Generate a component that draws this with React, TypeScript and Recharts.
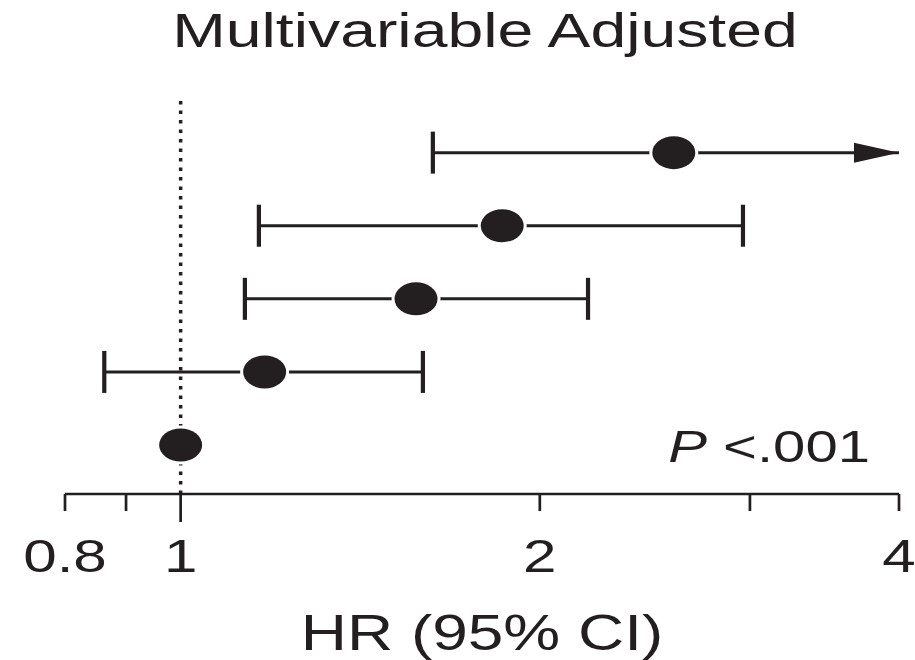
import React from 'react';
import { ScatterChart, Scatter, XAxis, YAxis, ReferenceLine } from 'recharts';

// ---- data ----
const rowIds = [1, 2, 3, 4, 5];
const hrValues = [2.59, 1.86, 1.575, 1.176, 1.0];
const ciLow: (number | null)[] = [1.627, 1.163, 1.132, 0.863, null];
const ciHigh: (number | null)[] = [4.5, 2.96, 2.195, 1.596, null];
const xTicks = [0.8, 0.9, 1, 2, 3, 4];
const xTickLabels = ['0.8', '', '1', '2', '', '4'];
const AXIS_MIN = 0.8;
const AXIS_MAX = 4;
const titleText = 'Multivariable Adjusted';
const axisTitle = 'HR (95% CI)';
const pValueText = '<.001';

const INK = '#231f20';
const FONT = '"Liberation Sans", Arial, Helvetica, sans-serif';

const pointData = rowIds.map((r, i) => ({ x: hrValues[i], y: r }));
const ciData = rowIds
  .map((r, i) => {
    const lo = ciLow[i];
    const hi = ciHigh[i];
    if (lo == null || hi == null) return null;
    return [
      { x: lo, y: r, kind: 'cap' },
      { x: Math.min(hi, AXIS_MAX), y: r, kind: hi > AXIS_MAX ? 'arrow' : 'cap' },
    ];
  })
  .filter(Boolean) as { x: number; y: number; kind: string }[][];

const CapShape = (props: any) => {
  const { cx, cy, payload } = props;
  if (cx == null || cy == null) return null;
  if (payload && payload.kind === 'arrow') {
    return (
      <polygon
        points={`${cx},${cy} ${cx - 45},${cy - 10} ${cx - 45},${cy + 10}`}
        fill={INK}
      />
    );
  }
  return <line x1={cx} x2={cx} y1={cy - 21} y2={cy + 21} stroke={INK} strokeWidth={4.2} />;
};

const DotShape = (props: any) => {
  const { cx, cy } = props;
  if (cx == null || cy == null) return null;
  return (
    <g>
      <ellipse cx={cx} cy={cy} rx={24.5} ry={19.5} fill="#ffffff" />
      <ellipse cx={cx} cy={cy} rx={21.5} ry={16.5} fill={INK} />
    </g>
  );
};

const TickShape = (props: any) => {
  const { x, y, payload } = props;
  const idx = xTicks.indexOf(payload.value);
  const label = idx >= 0 ? xTickLabels[idx] : '';
  const len = payload.value === 1 ? 28 : 17;
  return (
    <g>
      <line x1={x} x2={x} y1={y} y2={y + len} stroke={INK} strokeWidth={2.7} />
      {label !== '' && (
        <g transform={`translate(${x},${y + 78}) scale(1.28,1)`}>
          <text x={0} y={0} textAnchor="middle" fontSize={47} fontFamily={FONT} fill={INK}>
            {label}
          </text>
        </g>
      )}
    </g>
  );
};

export default function App() {
  return (
    <div style={{ position: 'absolute', left: 0, top: 0, width: 915, height: 660, background: '#fff' }}>
      <ScatterChart
        width={915}
        height={660}
        margin={{ top: 100, right: 16, bottom: 86, left: 65 }}
      >
        <XAxis
          type="number"
          dataKey="x"
          scale="log"
          domain={[AXIS_MIN, AXIS_MAX]}
          ticks={xTicks}
          allowDataOverflow
          interval={0}
          height={80}
          tickSize={0}
          tickMargin={0}
          tickLine={false}
          axisLine={{ stroke: INK, strokeWidth: 2.7 }}
          tick={<TickShape />}
        />
        <YAxis type="number" dataKey="y" domain={[0.28, 5.67]} reversed hide width={0} allowDataOverflow />
        <ReferenceLine
          x={1}
          stroke={INK}
          strokeWidth={3.5}
          strokeDasharray="3.5 6"
          ifOverflow="visible"
        />
        {ciData.map((d, i) => (
          <Scatter
            key={`ci-${i}`}
            data={d}
            line={{ stroke: INK, strokeWidth: 3 }}
            shape={<CapShape />}
            isAnimationActive={false}
          />
        ))}
        <Scatter data={pointData} shape={<DotShape />} isAnimationActive={false} />
      </ScatterChart>
      <svg
        width={915}
        height={660}
        style={{ position: 'absolute', left: 0, top: 0, pointerEvents: 'none' }}
      >
        <g transform="translate(485,47) scale(1.34,1)">
          <text x={0} y={0} textAnchor="middle" fontSize={48} fontFamily={FONT} fill={INK}>
            {titleText}
          </text>
        </g>
        <g transform="translate(870,462) scale(1.32,1)">
          <text x={0} y={0} textAnchor="end" fontSize={44} fontFamily={FONT} fill={INK}>
            <tspan fontStyle="italic">P</tspan> {pValueText}
          </text>
        </g>
        <g transform="translate(482,650) scale(1.28,1)">
          <text x={0} y={0} textAnchor="middle" fontSize={50} fontFamily={FONT} fill={INK}>
            {axisTitle}
          </text>
        </g>
      </svg>
    </div>
  );
}
